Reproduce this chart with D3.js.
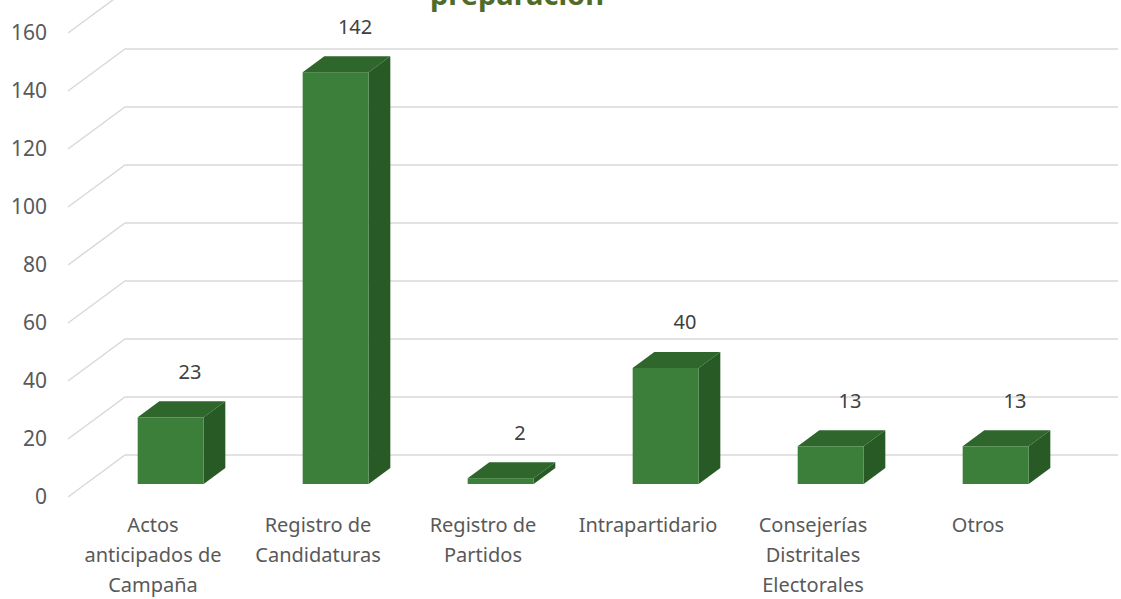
<!DOCTYPE html>
<html>
<head>
<meta charset="utf-8">
<script src="https://cdn.jsdelivr.net/npm/d3@7"></script>
<style>
  body { margin: 0; background: #fff; }
  svg { display: block; font-family: "Noto Sans", sans-serif; }
</style>
</head>
<body>
<div id="vis"></div>
<script>
// categories and counts
const categories = [
  ["Actos", "anticipados de", "Campaña"],
  ["Registro de", "Candidaturas"],
  ["Registro de", "Partidos"],
  ["Intrapartidario"],
  ["Consejerías", "Distritales", "Electorales"],
  ["Otros"]
];
const values = [23, 142, 2, 40, 13, 13];
const yTicks = [0, 20, 40, 60, 80, 100, 120, 140, 160];
const titleText = "preparación";

const W = 1121, H = 599;
const DX = 57, DY = 42;      // full floor depth offset
const Z0 = 0.31, Z1 = 0.69;  // bar front / back depth

const svg = d3.select("#vis")
  .append("svg")
    .attr("width", W)
    .attr("height", H);

const keys = categories.map((c, i) => i);

const x = d3.scaleBand()
  .domain(keys)
  .range([70.5, 1060.5])
  .paddingInner(0.6)
  .paddingOuter(0.3);

const y = d3.scaleLinear()
  .domain([0, 160])
  .range([497, 33]);

// projected point: value v at depth z
const px = (sx, z) => sx + z * DX;
const py = (v, z) => y(v) - z * DY;

// title (mostly above the visible area, as in the original)
svg.append("text")
  .attr("x", 430)
  .attr("y", 5)
  .attr("fill", "#4f6b2a")
  .attr("font-size", 29)
  .attr("font-weight", "bold")
  .text(titleText);

// perspective gridlines
const grid = svg.append("g");
yTicks.forEach(t => {
  grid.append("path")
    .attr("d", `M${px(68, 0)},${py(t, 0)} L${px(68, 1)},${py(t, 1)} L1118,${py(t, 1)}`)
    .attr("fill", "none")
    .attr("stroke", "#d9d9d9")
    .attr("stroke-width", 1.5);
});

// y tick labels
svg.append("g")
  .selectAll("text")
  .data(yTicks)
  .join("text")
    .attr("x", 47)
    .attr("y", d => y(d) + 1)
    .attr("text-anchor", "end")
    .attr("dominant-baseline", "middle")
    .attr("font-size", 21)
    .attr("fill", "#595959")
    .text(d => d);

// bars
const bars = svg.append("g")
  .selectAll("g")
  .data(values)
  .join("g");

bars.append("path") // top
  .attr("fill", "#2e662c")
  .attr("d", (d, i) => {
    const x0 = x(i), x1 = x(i) + x.bandwidth();
    return `M${px(x0, Z0)},${py(d, Z0)} L${px(x1, Z0)},${py(d, Z0)} L${px(x1, Z1)},${py(d, Z1)} L${px(x0, Z1)},${py(d, Z1)}Z`;
  });

bars.append("path") // right side
  .attr("fill", "#285a26")
  .attr("d", (d, i) => {
    const x1 = x(i) + x.bandwidth();
    return `M${px(x1, Z0)},${py(d, Z0)} L${px(x1, Z1)},${py(d, Z1)} L${px(x1, Z1)},${py(0, Z1)} L${px(x1, Z0)},${py(0, Z0)}Z`;
  });

bars.append("rect") // front
  .attr("fill", "#3b7f3a")
  .attr("x", (d, i) => px(x(i), Z0))
  .attr("y", d => py(d, Z0))
  .attr("width", x.bandwidth())
  .attr("height", d => y(0) - y(d));

// value labels
svg.append("g")
  .selectAll("text")
  .data(values)
  .join("text")
    .attr("x", (d, i) => px(x(i) + x.bandwidth() / 2, 0.65))
    .attr("y", d => y(d) - 57)
    .attr("text-anchor", "middle")
    .attr("dominant-baseline", "middle")
    .attr("font-size", 20)
    .attr("fill", "#404040")
    .text(d => d);

// category labels
const cat = svg.append("g")
  .selectAll("text")
  .data(categories)
  .join("text")
    .attr("text-anchor", "middle")
    .attr("font-size", 20)
    .attr("fill", "#595959");

cat.selectAll("tspan")
  .data((d, i) => d.map(line => ({ line, i })))
  .join("tspan")
    .attr("x", d => x(d.i) + x.bandwidth() / 2)
    .attr("y", (d, j) => 532 + j * 30)
    .text(d => d.line);
</script>
</body>
</html>
